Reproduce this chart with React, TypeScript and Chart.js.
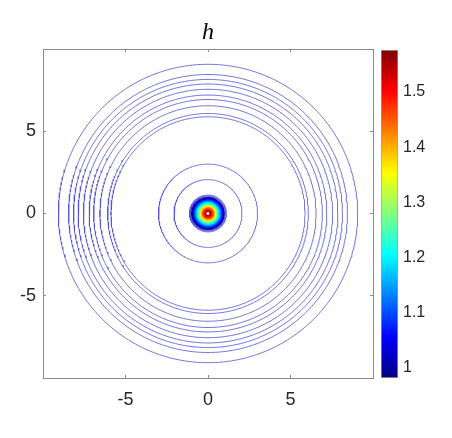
import React, { useEffect, useRef } from 'react';
import { Chart, registerables } from 'chart.js';
Chart.register(...registerables);

// ---- data ----
const titleText = 'h';
const axisMin = -10;
const axisMax = 10;
const xTickValues = [-5, 0, 5];
const yTickValues = [-5, 0, 5];
const colorMin = 0.982;
const colorMax = 1.576;
const colorTicks = [1, 1.1, 1.2, 1.3, 1.4, 1.5];
// contour rings of h close to 1 (radius in plot units)
const ringRadii = [2.06, 3.0, 5.88, 6.08, 6.55, 6.93, 7.2, 7.55, 7.87, 8.15, 8.45, 9.07];
// thin contour lines at the edge of the central peak
const edgeRadii = [1.0, 1.04, 1.08, 1.12];
// filled contour levels of the central peak
const coreLevels = [1.0, 1.05, 1.1, 1.15, 1.2, 1.25, 1.3, 1.35, 1.4, 1.45, 1.5, 1.55];
const coreRadii = [0.98, 0.9, 0.82, 0.74, 0.66, 0.58, 0.52, 0.46, 0.4, 0.33, 0.25, 0.15];
const peakRadius = 0.07;

const FONT = "'Liberation Sans', Arial, Helvetica, sans-serif";
const AXIS_COLOR = '#8a8a8a';
const TEXT_COLOR = '#262626';
const LINE_COLOR = 'rgb(80,80,212)';

function jet(t: number): string {
  const c = (v: number) => Math.round(255 * Math.max(0, Math.min(1, v)));
  const tt = Math.max(0, Math.min(1, t));
  const r = 1.5 - Math.abs(4 * tt - 3);
  const g = 1.5 - Math.abs(4 * tt - 2);
  const b = 1.5 - Math.abs(4 * tt - 1);
  return `rgb(${c(r)},${c(g)},${c(b)})`;
}
const levelColor = (v: number) => jet((v - colorMin) / (colorMax - colorMin));

function circle(r: number, n = 360) {
  const pts: { x: number; y: number }[] = [];
  for (let i = 0; i <= n; i++) {
    const a = (2 * Math.PI * i) / n;
    pts.push({ x: r * Math.cos(a), y: r * Math.sin(a) });
  }
  return pts;
}

const setTicks = (values: number[]) => (scale: any) => {
  scale.ticks = values.map((v) => ({ value: v }));
};

export default function App() {
  const mainRef = useRef<HTMLCanvasElement>(null);
  const barRef = useRef<HTMLCanvasElement>(null);

  useEffect(() => {
    document.body.style.margin = '0';
    const datasets: any[] = [];
    ringRadii.forEach((r) => {
      datasets.push({
        data: circle(r),
        showLine: true,
        borderColor: LINE_COLOR,
        borderWidth: 0.8,
        pointRadius: 0,
        fill: false,
        order: 100000,
      });
    });
    edgeRadii.forEach((r) => {
      datasets.push({
        data: circle(r, 180),
        showLine: true,
        borderColor: LINE_COLOR,
        borderWidth: 0.8,
        pointRadius: 0,
        fill: false,
        order: 50000,
      });
    });
    coreLevels.forEach((lv, i) => {
      datasets.push({
        data: circle(coreRadii[i], 120),
        showLine: true,
        borderColor: levelColor(lv),
        backgroundColor: levelColor(lv),
        borderWidth: 1,
        pointRadius: 0,
        fill: 'shape',
        order: Math.round(coreRadii[i] * 1000),
      });
    });
    datasets.push({
      data: circle(peakRadius, 60),
      showLine: true,
      borderColor: '#ffffff',
      backgroundColor: '#ffffff',
      borderWidth: 0.5,
      pointRadius: 0,
      fill: 'shape',
      order: 1,
    });

    const tickFont = { family: FONT, size: 18 };
    const gridOpts = {
      display: true,
      drawOnChartArea: false,
      drawTicks: true,
      tickLength: -3,
      color: AXIS_COLOR,
    };
    const main = new Chart(mainRef.current!, {
      type: 'scatter',
      data: { datasets },
      options: {
        animation: false,
        responsive: false,
        events: [],
        layout: { padding: { left: 0, top: 0, right: 79, bottom: 0 } },
        plugins: { legend: { display: false }, tooltip: { enabled: false } },
        scales: {
          x: {
            type: 'linear',
            position: 'bottom',
            min: axisMin,
            max: axisMax,
            z: 1,
            afterBuildTicks: setTicks(xTickValues),
            afterFit: (s: any) => { s.height = 60; },
            ticks: { font: tickFont, color: TEXT_COLOR, padding: 14, maxRotation: 0 },
            grid: gridOpts,
            border: { display: true, color: AXIS_COLOR, width: 1 },
          },
          x2: {
            type: 'linear',
            position: 'top',
            min: axisMin,
            max: axisMax,
            z: 1,
            afterBuildTicks: setTicks(xTickValues),
            afterFit: (s: any) => { s.height = 49; },
            ticks: { display: false },
            grid: gridOpts,
            border: { display: true, color: AXIS_COLOR, width: 1 },
            title: {
              display: true,
              text: titleText,
              color: '#000',
              font: { family: "'Liberation Serif', 'DejaVu Serif', serif", style: 'italic', size: 24 },
              padding: { top: 18, bottom: 0 },
            },
          },
          y: {
            type: 'linear',
            position: 'left',
            min: axisMin,
            max: axisMax,
            z: 1,
            afterBuildTicks: setTicks(yTickValues),
            afterFit: (s: any) => { s.width = 43; },
            ticks: { font: tickFont, color: TEXT_COLOR, padding: 10 },
            grid: gridOpts,
            border: { display: true, color: AXIS_COLOR, width: 1 },
          },
          y2: {
            type: 'linear',
            position: 'right',
            min: axisMin,
            max: axisMax,
            z: 1,
            afterBuildTicks: setTicks(yTickValues),
            afterFit: (s: any) => { s.width = 0; },
            ticks: { display: false },
            grid: gridOpts,
            border: { display: true, color: AXIS_COLOR, width: 1 },
          },
        },
      } as any,
    });

    const bar = new Chart(barRef.current!, {
      type: 'bar',
      data: {
        labels: ['h'],
        datasets: [
          {
            data: [[colorMin, colorMax]] as any,
            backgroundColor: (ctx: any) => {
              const chart = ctx.chart;
              const ys = chart.scales && chart.scales.y;
              if (!ys || !chart.chartArea) return levelColor(1.2);
              const g = chart.ctx.createLinearGradient(
                0,
                ys.getPixelForValue(colorMin),
                0,
                ys.getPixelForValue(colorMax)
              );
              const n = 64;
              for (let i = 0; i < n; i++) {
                g.addColorStop(i / (n - 1), jet(i / (n - 1)));
              }
              return g;
            },
            borderColor: '#a0a0a0',
            borderWidth: 1,
            borderSkipped: false,
            barPercentage: 1,
            categoryPercentage: 1,
          },
        ],
      },
      options: {
        animation: false,
        responsive: false,
        events: [],
        layout: { padding: { left: 381, top: 50, right: 0, bottom: 60 } },
        plugins: { legend: { display: false }, tooltip: { enabled: false } },
        scales: {
          x: { type: 'category', display: false },
          y: {
            type: 'linear',
            position: 'right',
            min: colorMin,
            max: colorMax,
            z: 1,
            afterBuildTicks: setTicks(colorTicks),
            afterFit: (s: any) => { s.width = 54; },
            ticks: {
              font: { family: FONT, size: 16 },
              color: TEXT_COLOR,
              padding: 8,
              callback: (v: any) => String(Math.round(v * 10) / 10),
            },
            grid: { display: true, drawOnChartArea: false, drawTicks: true, tickLength: -3, color: '#333333' },
            border: { display: false },
          },
        },
      } as any,
    });

    return () => {
      main.destroy();
      bar.destroy();
    };
  }, []);

  return (
    <div style={{ position: 'fixed', left: 0, top: 0, width: 452, height: 438, background: '#fff' }}>
      <canvas ref={mainRef} width={452} height={438} style={{ position: 'absolute', left: 0, top: 0 }} />
      <canvas ref={barRef} width={452} height={438} style={{ position: 'absolute', left: 0, top: 0 }} />
    </div>
  );
}
